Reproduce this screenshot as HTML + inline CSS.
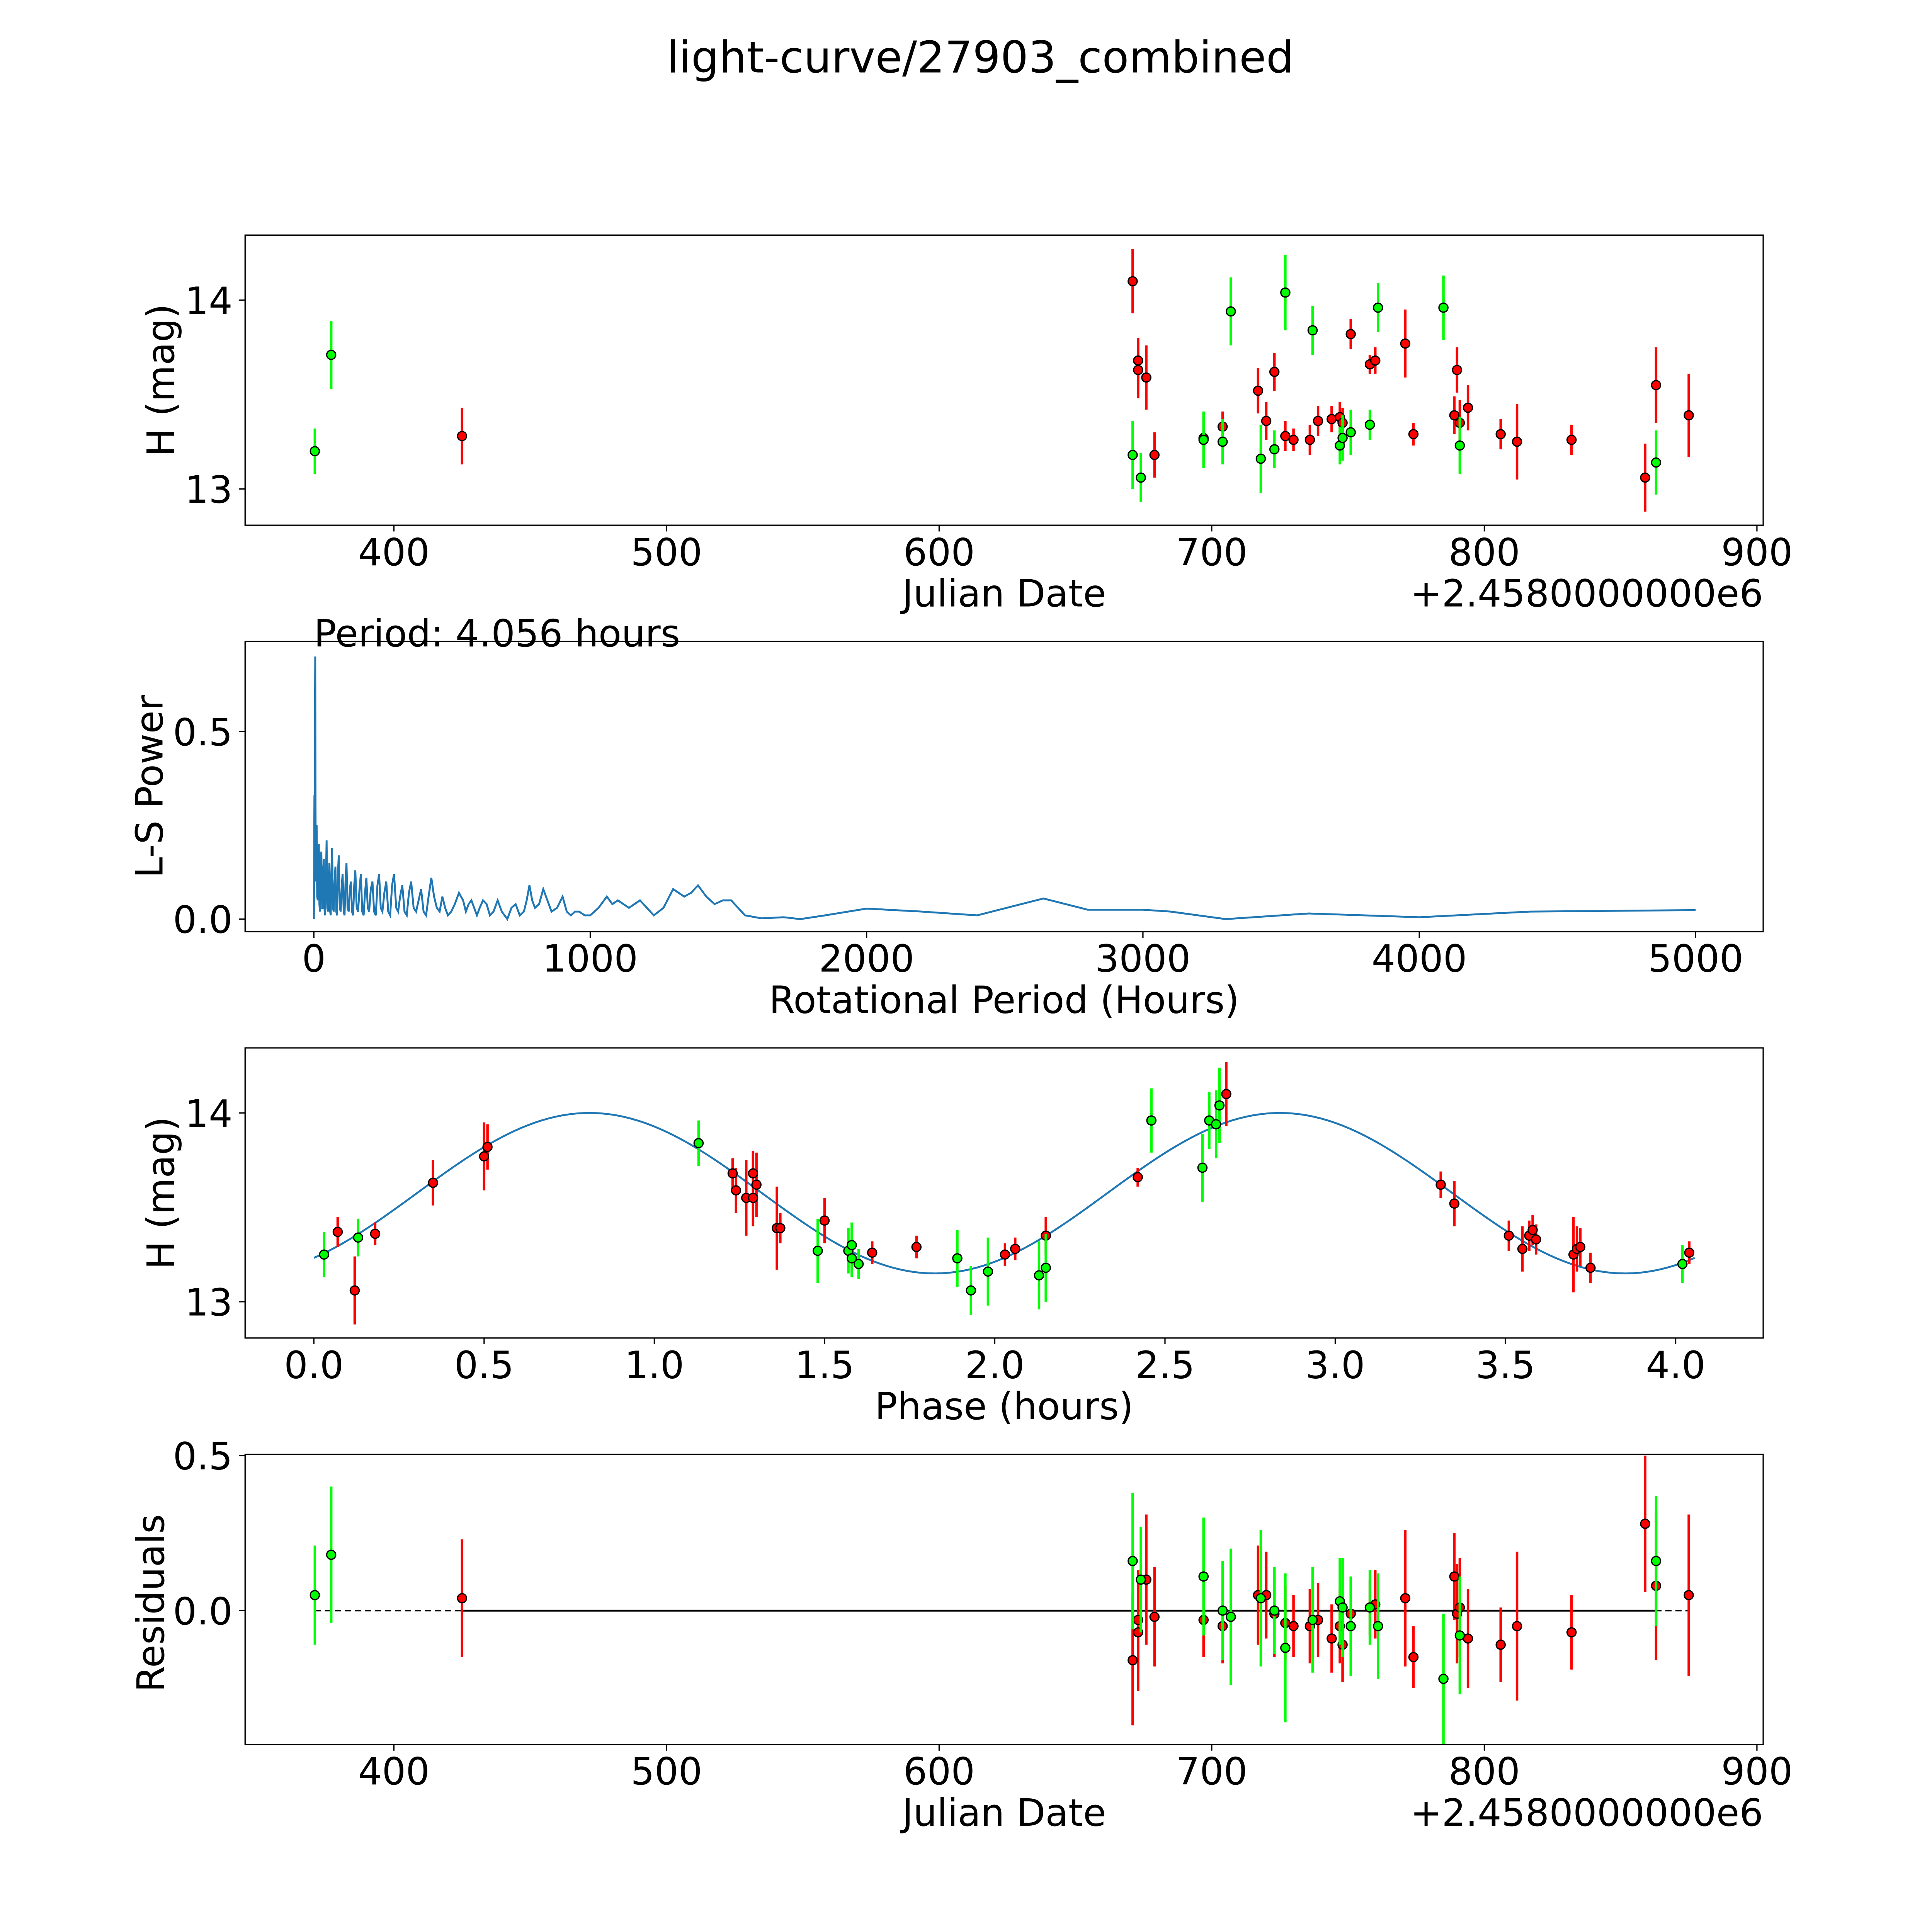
<!DOCTYPE html>
<html><head><meta charset="utf-8"><style>
html,body{margin:0;padding:0;background:#fff;overflow:hidden;width:100vw;height:100vh;}
svg{display:block;width:100vw;height:100vh;font-family:"DejaVu Sans","Liberation Sans",sans-serif;}
</style></head><body>
<svg id="fig" viewBox="0 0 1545 1545" preserveAspectRatio="none" xmlns="http://www.w3.org/2000/svg">
<rect width="1545" height="1545" fill="#fff"/>
<text x="784" y="58" font-size="35" text-anchor="middle">light-curve/27903_combined</text>
</svg>
<script>
// ---------- data ----------
const greenJD=[371,377,671,674,697,704,707,718,723,727,737,747,748,751,758,761,785,791,863];
const greenMag=[13.20,13.71,13.18,13.06,13.26,13.25,13.94,13.16,13.21,14.04,13.84,13.23,13.27,13.30,13.34,13.96,13.96,13.23,13.14];
const greenErr=[0.12,0.18,0.18,0.13,0.15,0.12,0.18,0.18,0.10,0.20,0.13,0.10,0.12,0.12,0.08,0.13,0.17,0.15,0.17];
const redJD=[425,671,673,673,676,679,697,704,717,720,723,727,730,736,739,744,747,748,751,758,760,771,774,789,790,791,794,806,812,832,859,863,875];
const redMag=[13.28,14.10,13.68,13.63,13.59,13.18,13.27,13.33,13.52,13.36,13.62,13.28,13.26,13.26,13.36,13.37,13.38,13.35,13.82,13.66,13.68,13.77,13.29,13.39,13.63,13.35,13.43,13.29,13.25,13.26,13.06,13.55,13.39];
const redErr=[0.15,0.17,0.12,0.15,0.17,0.12,0.08,0.08,0.12,0.10,0.10,0.08,0.06,0.08,0.08,0.07,0.08,0.08,0.08,0.05,0.07,0.18,0.06,0.10,0.12,0.12,0.12,0.08,0.20,0.08,0.18,0.20,0.22];

const lsPeriod=[0,2,3,4,5,6,7,9,10,12,14,16,18,20,22,25,27,30,32,34,36,39,41,44,46,49,51,54,56,59,61,64,66,69,72,75,78,81,84,87,90,94,97,101,104,108,111,115,118,122,126,130,134,138,142,146,150,155,160,165,170,175,180,185,190,195,200,206,212,218,224,230,236,242,248,255,262,269,276,283,290,298,305,312,320,328,336,344,352,361,370,379,388,397,406,415,425,435,445,455,465,475,485,497,510,525,540,550,560,570,580,590,600,612,625,637,650,665,680,690,700,715,730,745,760,770,780,790,800,815,830,845,860,880,900,915,930,945,960,980,1000,1030,1060,1080,1100,1120,1140,1160,1180,1205,1230,1265,1300,1320,1340,1365,1390,1420,1450,1480,1510,1535,1560,1620,1700,1760,1850,2000,2200,2400,2640,2800,3000,3100,3300,3600,4000,4400,5000];
const lsPower=[0,0.33,0.12,0.55,0.70,0.30,0.10,0.18,0.25,0.06,0.05,0.17,0.20,0.04,0.02,0.14,0.18,0.03,0.03,0.13,0.16,0.02,0.01,0.12,0.21,0.03,0.02,0.11,0.15,0.02,0.01,0.14,0.19,0.03,0.02,0.1,0.14,0.02,0.01,0.12,0.17,0.03,0.02,0.09,0.12,0.02,0.01,0.11,0.15,0.03,0.02,0.08,0.10,0.02,0.01,0.09,0.13,0.03,0.02,0.08,0.12,0.02,0.01,0.07,0.11,0.03,0.02,0.08,0.10,0.02,0.01,0.09,0.12,0.03,0.02,0.07,0.10,0.02,0.01,0.09,0.12,0.03,0.02,0.06,0.09,0.02,0.01,0.07,0.10,0.03,0.02,0.05,0.08,0.02,0.01,0.06,0.11,0.06,0.03,0.02,0.06,0.03,0.01,0.02,0.04,0.07,0.05,0.02,0.04,0.05,0.03,0.01,0.03,0.05,0.04,0.01,0.02,0.05,0.02,0.01,0.00,0.03,0.04,0.01,0.02,0.05,0.09,0.05,0.03,0.04,0.08,0.05,0.02,0.03,0.06,0.02,0.01,0.02,0.02,0.01,0.01,0.03,0.06,0.04,0.05,0.04,0.03,0.04,0.05,0.03,0.01,0.03,0.08,0.07,0.06,0.07,0.09,0.06,0.04,0.05,0.05,0.03,0.01,0.002,0.005,0.0,0.01,0.028,0.02,0.01,0.055,0.025,0.025,0.02,0.0,0.015,0.005,0.02,0.024];

const phGreen=[0.03,0.13,1.13,1.48,1.57,1.58,1.58,1.60,1.89,1.93,1.98,2.13,2.15,2.46,2.61,2.63,2.65,2.66,4.02];
const phGreenMag=[13.25,13.34,13.84,13.27,13.27,13.23,13.30,13.20,13.23,13.06,13.16,13.14,13.18,13.96,13.71,13.96,13.94,14.04,13.20];
const phRed=[0.07,0.12,0.18,0.35,0.50,0.51,1.23,1.24,1.27,1.29,1.29,1.30,1.36,1.37,1.50,1.64,1.77,2.03,2.06,2.15,2.42,2.68,3.31,3.35,3.51,3.55,3.57,3.58,3.59,3.70,3.71,3.72,3.75,4.04];
const phRedMag=[13.37,13.06,13.36,13.63,13.77,13.82,13.68,13.59,13.55,13.68,13.55,13.62,13.39,13.39,13.43,13.26,13.29,13.25,13.28,13.35,13.66,14.10,13.62,13.52,13.35,13.28,13.35,13.38,13.33,13.25,13.28,13.29,13.18,13.26];
const phRedErr=[0.08,0.18,0.06,0.12,0.18,0.12,0.08,0.12,0.20,0.12,0.15,0.17,0.22,0.08,0.12,0.06,0.06,0.06,0.06,0.10,0.05,0.17,0.07,0.12,0.08,0.12,0.08,0.08,0.08,0.20,0.12,0.10,0.08,0.06];
const phGreenErr=[0.12,0.10,0.12,0.17,0.12,0.10,0.12,0.08,0.15,0.13,0.18,0.18,0.18,0.17,0.18,0.15,0.18,0.20,0.10];

const resGreen=[0.05,0.18,0.16,0.10,0.11,0.0,-0.02,0.04,0.0,-0.12,-0.03,0.03,0.01,-0.05,0.01,-0.05,-0.22,-0.08,0.16];
const resRed=[0.04,-0.16,-0.03,-0.07,0.10,-0.02,-0.03,-0.05,0.05,0.05,-0.01,-0.04,-0.05,-0.05,-0.03,-0.09,-0.05,-0.11,-0.01,0.01,0.02,0.04,-0.15,0.11,-0.01,0.01,-0.09,-0.11,-0.05,-0.07,0.28,0.08,0.05,0.12];

const sineMean=13.575, sineAmp=0.425, sinePer=2.028, sinePhase=0.3025;

// ---------- helpers ----------
const svg=document.getElementById('fig');
const NS='http://www.w3.org/2000/svg';
const FS=30;
function mk(tag,attrs,parent){const e=document.createElementNS(NS,tag);for(const k in attrs)e.setAttribute(k,attrs[k]);(parent||svg).appendChild(e);return e;}
function lin(d0,d1,r0,r1){return v=>r0+(v-d0)*(r1-r0)/(d1-d0);}

function axesBox(name){
  const g=mk('g',{});
  
  
  return g;
}
function frame(g,y0,y1){mk('rect',{x:196,y:y0,width:1214,height:y1-y0,fill:'none',stroke:'#000','stroke-width':1},g);}
function xticks(g,vals,labels,sx,yb){
  vals.forEach((v,i)=>{const x=sx(v);
    mk('line',{x1:x,x2:x,y1:yb,y2:yb+5,stroke:'#000','stroke-width':1},g);
    const tx=mk('text',{x:x,y:yb+32,'font-size':FS,'text-anchor':'middle'},g);tx.textContent=labels[i];
    
    
  });
}
function yticks(g,vals,labels,sy){
  vals.forEach((v,i)=>{const y=sy(v);
    mk('line',{x1:191,x2:196,y1:y,y2:y,stroke:'#000','stroke-width':1},g);
    const tx=mk('text',{x:186,y:y+11,'font-size':FS,'text-anchor':'end'},g);tx.textContent=labels[i];
    
    
  });
}
function label(g,txt,x,y,rot,name){
  const t=mk('text',{x:x,y:y,'font-size':FS,'text-anchor':'middle',transform:rot?`rotate(-90 ${x} ${y})`:''},g);
  t.textContent=txt;
  
  
}
function points(g,xs,ys,errs,color,sx,sy,name){
  xs.forEach((xv,i)=>{const x=sx(xv);
    mk('line',{x1:x,x2:x,y1:sy(ys[i]-errs[i]),y2:sy(ys[i]+errs[i]),stroke:color,'stroke-width':2},g);
  });
  xs.forEach((xv,i)=>{
    const c=mk('circle',{cx:sx(xv),cy:sy(ys[i]),r:3.6,fill:color,stroke:'#000','stroke-width':1},g);
    
    
  });
}
const sxJD=lin(400,900,315,1405);

// ---------- panel 1 ----------
{const g=axesBox('light-curve-panel');const sy=lin(13,14,391,240);
 frame(g,188,420);
 xticks(g,[400,500,600,700,800,900],['400','500','600','700','800','900'],sxJD,420);
 yticks(g,[13,14],['13','14'],sy);
 label(g,'Julian Date',803,485,false,'x-axis-title');
 label(g,'H (mag)',139,304,true,'y-axis-title');
 const o=mk('text',{x:1410,y:485,'font-size':FS,'text-anchor':'end'},g);o.textContent='+2.4580000000e6';
 
 points(g,redJD,redMag,redErr,'#ff0000',sxJD,sy,'red-point');
 points(g,greenJD,greenMag,greenErr,'#00ff00',sxJD,sy,'green-point');
}
// ---------- panel 2 ----------
{const g=axesBox('periodogram-panel');const sx=lin(0,5000,251,1356),sy=lin(0,0.5,735,585);
 frame(g,513,745);
 xticks(g,[0,1000,2000,3000,4000,5000],['0','1000','2000','3000','4000','5000'],sx,745);
 yticks(g,[0,0.5],['0.0','0.5'],sy);
 label(g,'Rotational Period (Hours)',803,810,false,'x-axis-title');
 label(g,'L-S Power',130,629,true,'y-axis-title');
 const pt=mk('text',{x:251,y:517,'font-size':FS},g);pt.textContent='Period: 4.056 hours';
 
 const d=lsPeriod.map((p,i)=>(i?'L':'M')+sx(p).toFixed(2)+','+sy(lsPower[i]).toFixed(2)).join(' ');
 const p=mk('path',{d:d,fill:'none',stroke:'#1f77b4','stroke-width':1.5},g);
 
}
// ---------- panel 3 ----------
{const g=axesBox('phase-panel');const sx=lin(0,4,251,1340),sy=lin(13,14,1041,890);
 frame(g,838,1070);
 xticks(g,[0,0.5,1,1.5,2,2.5,3,3.5,4],['0.0','0.5','1.0','1.5','2.0','2.5','3.0','3.5','4.0'],sx,1070);
 yticks(g,[13,14],['13','14'],sy);
 label(g,'Phase (hours)',803,1135,false,'x-axis-title');
 label(g,'H (mag)',139,954,true,'y-axis-title');
 let d='';for(let i=0;i<=200;i++){const x=4.056*i/200;const m=sineMean+sineAmp*Math.sin(2*Math.PI*(x-sinePhase)/sinePer);d+=(i?'L':'M')+sx(x).toFixed(2)+','+sy(m).toFixed(2);}
 const p=mk('path',{d:d,fill:'none',stroke:'#1f77b4','stroke-width':1.5},g);
 
 points(g,phRed,phRedMag,phRedErr,'#ff0000',sx,sy,'red-point');
 points(g,phGreen,phGreenMag,phGreenErr,'#00ff00',sx,sy,'green-point');
}
// ---------- panel 4 ----------
{const g=axesBox('residuals-panel');const sy=lin(0,0.5,1288,1164);
 frame(g,1163,1395);
 xticks(g,[400,500,600,700,800,900],['400','500','600','700','800','900'],sxJD,1395);
 yticks(g,[0,0.5],['0.0','0.5'],sy);
 label(g,'Julian Date',803,1460,false,'x-axis-title');
 label(g,'Residuals',131,1282,true,'y-axis-title');
 const o=mk('text',{x:1410,y:1460,'font-size':FS,'text-anchor':'end'},g);o.textContent='+2.4580000000e6';
 
 const z1=mk('line',{x1:sxJD(371),x2:sxJD(875),y1:sy(0),y2:sy(0),stroke:'#000','stroke-width':1.2,'stroke-dasharray':'5,3'},g);
 
 const z2=mk('line',{x1:sxJD(425),x2:sxJD(863),y1:sy(0),y2:sy(0),stroke:'#000','stroke-width':1.5},g);
 
 const rE=redErr.map(e=>e+0.04), gE=greenErr.map(e=>e+0.04);
 points(g,redJD,resRed,rE,'#ff0000',sxJD,sy,'red-residual');
 points(g,greenJD,resGreen,gE,'#00ff00',sxJD,sy,'green-residual');
}
</script>
</body></html>
